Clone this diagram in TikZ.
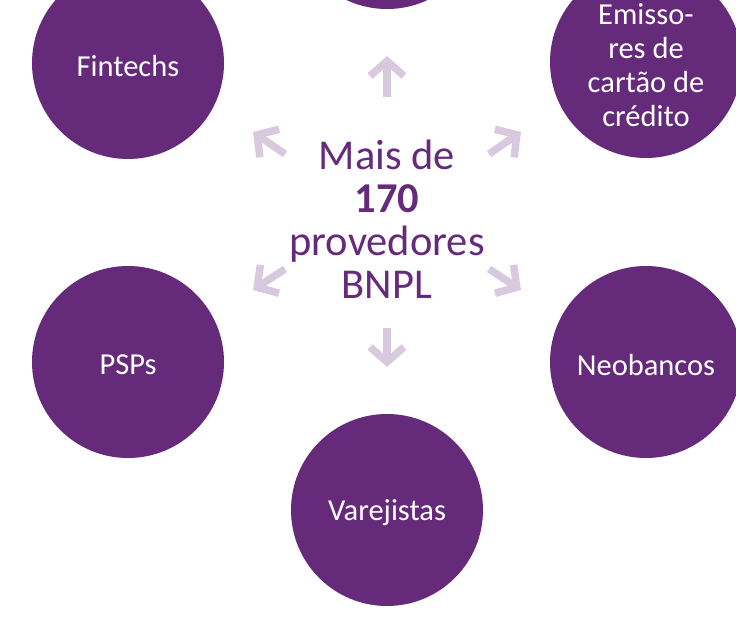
\documentclass[tikz,border=0pt]{standalone}
\usepackage{fontspec}
\setmainfont{Carlito}
\usetikzlibrary{arrows.meta}
\definecolor{roxo}{HTML}{662A7B}
\definecolor{lilas}{HTML}{D9C9DF}
\begin{document}
\begin{tikzpicture}[x=1pt,y=1pt,
  circ/.style={circle,fill=roxo,minimum size=192pt,inner sep=0pt},
  lbl/.style={text=white,align=center,yshift=-3pt,
    font=\fontsize{30.5}{34}\selectfont},
  seta/.style={draw=lilas,line width=7.5pt,
    -{Straight Barb[length=15pt,width=34pt,line cap=butt,line join=miter]}}]
\useasboundingbox (0,0) rectangle (736,-623);
\node[circ] (topo) at (387,87) {};
\node[circ,label={[lbl]center:Fintechs}] (fin) at (128,-63) {};
\node[circ,label={[lbl]center:Emisso-\\res de\\cartão de\\crédito}] (emi) at (646,-62) {};
\node[circ,label={[lbl]center:PSPs}] (psp) at (128,-362) {};
\node[circ,label={[lbl]center:Neobancos}] (neo) at (646,-362) {};
\node[circ,label={[lbl]center:Varejistas}] (var) at (387,-510) {};
\node[align=center,text=roxo,font=\fontsize{42.5}{43}\selectfont,inner sep=0pt] (centro) at (387,-219)
  {Mais de\\\textbf{170}\\provedores\\BNPL};
\coordinate (u0) at (387,-97); \coordinate (u1) at (387,-56);
\coordinate (d0) at (387,-328); \coordinate (d1) at (387,-367);
\coordinate (ul0) at (285,-154); \coordinate (ul1) at (253,-132);
\coordinate (ur0) at (489,-154); \coordinate (ur1) at (521,-132);
\coordinate (ll0) at (285,-269); \coordinate (ll1) at (253,-290);
\coordinate (lr0) at (489,-269); \coordinate (lr1) at (521,-290);
\draw[seta] (u0) -- (u1);
\draw[seta] (d0) -- (d1);
\draw[seta] (ul0) -- (ul1);
\draw[seta] (ur0) -- (ur1);
\draw[seta] (ll0) -- (ll1);
\draw[seta] (lr0) -- (lr1);
\end{tikzpicture}
\end{document}
